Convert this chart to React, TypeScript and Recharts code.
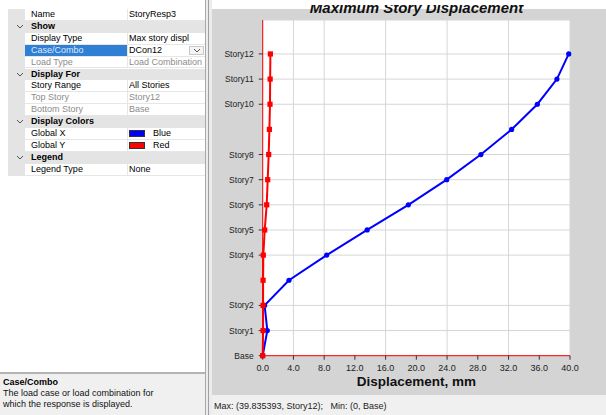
import React from "react";
import { LineChart, Line, XAxis, YAxis, CartesianGrid } from "recharts";

// story levels, 0 = Base
const stories = [0, 1, 2, 3, 4, 5, 6, 7, 8, 9, 10, 11, 12];
// max story displacement, mm
const globalX = [0, 0.6, 0.25, 3.42, 8.33, 13.6, 18.96, 23.95, 28.4, 32.4, 35.75, 38.3, 39.835];
const globalY = [0, 0.05, 0.05, 0.05, 0.08, 0.26, 0.52, 0.65, 0.78, 0.87, 0.95, 0.97, 1.0];
const xTicks = [0, 4, 8, 12, 16, 20, 24, 28, 32, 36, 40];
const yTicks = [0, 1, 2, 4, 5, 6, 7, 8, 10, 11, 12];

const data = stories.map((s, i) => ({ story: s, gx: globalX[i], gy: globalY[i] }));

type Row = { kind: "cat" | "row"; name: string; value?: string; dim?: boolean; sel?: boolean; swatch?: string; combo?: boolean };

const gridRows: Row[] = [
  { kind: "row", name: "Name", value: "StoryResp3" },
  { kind: "cat", name: "Show" },
  { kind: "row", name: "Display Type", value: "Max story displ" },
  { kind: "row", name: "Case/Combo", value: "DCon12", sel: true, combo: true },
  { kind: "row", name: "Load Type", value: "Load Combination", dim: true },
  { kind: "cat", name: "Display For" },
  { kind: "row", name: "Story Range", value: "All Stories" },
  { kind: "row", name: "Top Story", value: "Story12", dim: true },
  { kind: "row", name: "Bottom Story", value: "Base", dim: true },
  { kind: "cat", name: "Display Colors" },
  { kind: "row", name: "Global X", value: "Blue", swatch: "#0000ff" },
  { kind: "row", name: "Global Y", value: "Red", swatch: "#ff0000" },
  { kind: "cat", name: "Legend" },
  { kind: "row", name: "Legend Type", value: "None" },
];

const ROW_H = 11.9;
const uiFont = '"Liberation Sans", Arial, sans-serif';

function Chevron({ x, y }: { x: number; y: number }) {
  return (
    <svg style={{ position: "absolute", left: x, top: y }} width={8} height={6}>
      <polyline points="1,1 4,4 7,1" fill="none" stroke="#555" strokeWidth={1} />
    </svg>
  );
}

function PropertyGrid() {
  return (
    <div style={{ position: "absolute", left: 0, top: 0, width: 205, height: 415, background: "#fff", fontSize: 9, fontFamily: uiFont }}>
      <div style={{ position: "absolute", left: 8, top: 9, width: 17, height: ROW_H * gridRows.length, background: "#e4e4e4" }} />
      {gridRows.map((r, i) => {
        const top = 9 + i * ROW_H;
        if (r.kind === "cat") {
          return (
            <div key={r.name} style={{ position: "absolute", left: 8, top, width: 197, height: ROW_H, background: "#e4e4e4" }}>
              <Chevron x={8} y={3} />
              <span style={{ position: "absolute", left: 23, top: 0, lineHeight: `${ROW_H}px`, fontWeight: "bold", color: "#000" }}>{r.name}</span>
            </div>
          );
        }
        const color = r.dim ? "#8c8c8c" : "#000";
        return (
          <div key={r.name} style={{ position: "absolute", left: 25, top, width: 180, height: ROW_H, borderBottom: "1px solid #e6e6e6", boxSizing: "border-box" }}>
            <div style={{ position: "absolute", left: 0, top: 0, width: 102, height: ROW_H - 1, background: r.sel ? "#2f7fd4" : "transparent", borderRight: "1px solid #e6e6e6" }}>
              <span style={{ position: "absolute", left: 6, lineHeight: `${ROW_H - 1}px`, color: r.sel ? "#dde9f7" : color }}>{r.name}</span>
            </div>
            {r.swatch && (
              <div style={{ position: "absolute", left: 104, top: 2, width: 16, height: 7, background: r.swatch, border: "1px solid #333", boxSizing: "border-box" }} />
            )}
            <span style={{ position: "absolute", left: r.swatch ? 128 : 104, lineHeight: `${ROW_H - 1}px`, color, whiteSpace: "nowrap", overflow: "hidden", width: r.swatch ? 50 : 76 }}>{r.value}</span>
            {r.combo && (
              <div style={{ position: "absolute", left: 164, top: 1, width: 15, height: ROW_H - 3, background: "#f4f4f4", border: "1px solid #c8c8c8", boxSizing: "border-box" }}>
                <Chevron x={3} y={1} />
              </div>
            )}
          </div>
        );
      })}
      <div style={{ position: "absolute", left: 0, top: 372, width: 205, height: 43, background: "#f0f0f0", borderTop: "2px solid #b4b4b4", boxSizing: "border-box" }}>
        <div style={{ position: "absolute", left: 3, top: 3, fontWeight: "bold", fontSize: 9 }}>Case/Combo</div>
        <div style={{ position: "absolute", left: 3, top: 14, fontSize: 9, lineHeight: "11px", color: "#111" }}>
          The load case or load combination for
          <br />
          which the response is displayed.
        </div>
      </div>
    </div>
  );
}

function RedSquare(props: any) {
  const { cx, cy, index } = props;
  return <rect key={`r${index}`} x={cx - 2.6} y={cy - 2.6} width={5.2} height={5.2} fill="#ff0000" />;
}

export default function App() {
  return (
    <div style={{ position: "absolute", left: 0, top: 0, width: 606, height: 415, background: "#fff", overflow: "hidden", fontFamily: uiFont }}>
      <PropertyGrid />
      <div style={{ position: "absolute", left: 205, top: 0, width: 1, height: 415, background: "#a8a8a8" }} />
      <div style={{ position: "absolute", left: 206, top: 0, width: 6, height: 415, background: "#ececec" }} />
      <div style={{ position: "absolute", left: 208, top: 0, width: 1, height: 415, background: "#a0a0a0" }} />
      <div style={{ position: "absolute", left: 212, top: 9, width: 394, height: 386, background: "#d4d4d4" }}>
        <LineChart
          width={394}
          height={386}
          layout="vertical"
          data={data}
          margin={{ top: 11, right: 36, bottom: 0, left: 0 }}
        >
          <CartesianGrid stroke="#d6d6d6" fill="#ffffff" />
          <XAxis
            type="number"
            dataKey="gx"
            domain={[0, 40]}
            ticks={xTicks}
            tickFormatter={(v: number) => v.toFixed(1)}
            height={39.3}
            tickSize={4}
            tickMargin={5}
            axisLine={{ stroke: "#ff0000", strokeWidth: 1 }}
            tickLine={{ stroke: "#333" }}
            tick={{ fontSize: 9, fill: "#222", fontFamily: "Arial, sans-serif" }}
            label={(p: any) => {
              const vb = p.viewBox;
              return (
                <text x={vb.x + vb.width / 2} y={vb.y + 30.5} textAnchor="middle" fontSize={13.5} fontWeight="bold" fill="#111" fontFamily="Arial, sans-serif">
                  Displacement, mm
                </text>
              );
            }}
          />
          <YAxis
            type="number"
            dataKey="story"
            domain={[0, 13.35]}
            reversed
            ticks={yTicks}
            tickFormatter={(v: number) => (v === 0 ? "Base" : `Story${v}`)}
            width={50.7}
            tickSize={4}
            tickMargin={5}
            axisLine={{ stroke: "#ff0000", strokeWidth: 1 }}
            tickLine={{ stroke: "#333" }}
            tick={{ fontSize: 8.5, fill: "#222", fontFamily: "Arial, sans-serif" }}
          />
          <Line
            dataKey="gx"
            type="linear"
            stroke="#0000ff"
            strokeWidth={2}
            dot={{ r: 2.6, fill: "#0000ff", stroke: "#0000ff", strokeWidth: 0 }}
            isAnimationActive={false}
          />
          <Line
            dataKey="gy"
            type="linear"
            stroke="#ff0000"
            strokeWidth={2}
            dot={RedSquare}
            isAnimationActive={false}
          />
        </LineChart>
      </div>
      <div style={{ position: "absolute", left: 212, top: 395, width: 394, height: 20, background: "#f0f0f0" }}>
        <span style={{ position: "absolute", left: 2, top: 6, fontSize: 9, color: "#222", whiteSpace: "pre" }}>
          Max: (39.835393, Story12);   Min: (0, Base)
        </span>
      </div>
      <div style={{ position: "absolute", left: 212, top: 5, width: 394, height: 12, overflow: "hidden" }}>
        <div style={{ position: "absolute", left: 0, width: 409, top: -5, textAlign: "center", fontSize: 15, lineHeight: "15px", fontWeight: "bold", fontStyle: "italic", color: "#111", fontFamily: "Arial, sans-serif" }}>
          Maximum Story Displacement
        </div>
      </div>
    </div>
  );
}
